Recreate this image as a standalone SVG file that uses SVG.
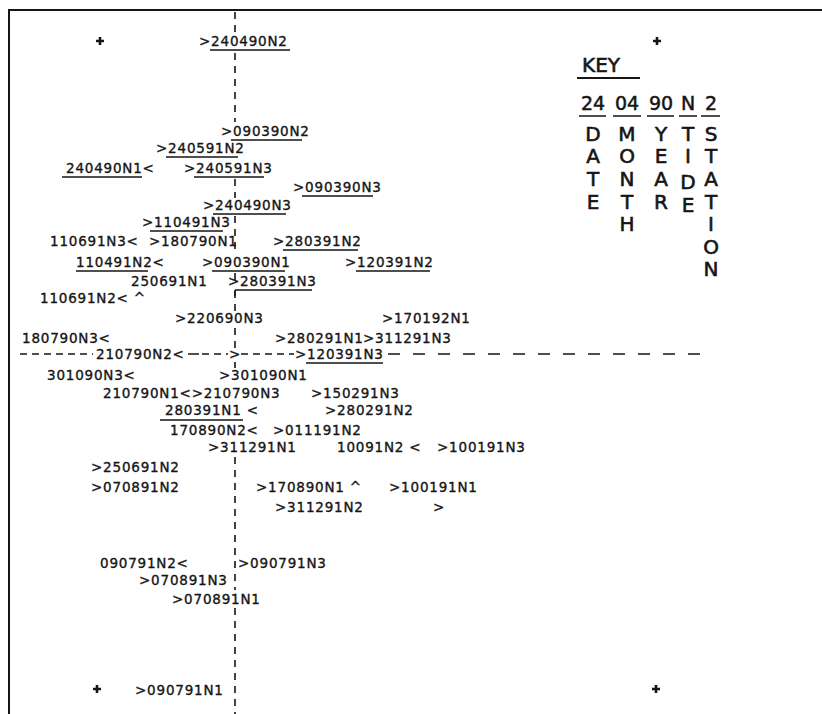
<svg xmlns="http://www.w3.org/2000/svg" width="822" height="714" viewBox="0 0 822 714">
<style>
.t{font-family:"DejaVu Sans","Liberation Sans",sans-serif;font-size:13.5px;letter-spacing:0.8px;fill:#151515;stroke:#151515;stroke-width:0.35px}
.k{font-family:"DejaVu Sans","Liberation Sans",sans-serif;font-size:20px;fill:#151515;stroke:#151515;stroke-width:0.6px;text-anchor:middle}
.kd{font-family:"DejaVu Sans","Liberation Sans",sans-serif;font-size:19px;fill:#151515;stroke:#151515;stroke-width:0.5px;text-anchor:middle}
.ul{stroke:#151515;stroke-width:1.5;fill:none}
.dv{stroke:#151515;stroke-width:1.6;fill:none;stroke-dasharray:7 6}
.dh{stroke:#151515;stroke-width:1.6;fill:none;stroke-dasharray:7 5}
.dl{stroke:#151515;stroke-width:1.6;fill:none;stroke-dasharray:12 13}
.cr{stroke:#151515;stroke-width:2.6;fill:none}
</style>
<rect width="822" height="714" fill="#fff"/>
<path d="M9 714 V10 H822" stroke="#151515" stroke-width="2" fill="none"/>
<g id="marks">
<path class="cr" d="M96 41 h8 M100 37 v8"/>
<path class="cr" d="M653 41 h8 M657 37 v8"/>
<path class="cr" d="M93 689 h8 M97 685 v8"/>
<path class="cr" d="M652 689 h8 M656 685 v8"/>
</g>
<g id="connectors">
<path class="dv" d="M235 12 V34 M235 53 V122 M235 179 V198 M235 216 V254 M235 273 V281 M235 291 V312 M235 328 V349 M235 362 V368 M235 457 V590 M235 608 V714"/>
<path class="ul" d="M235 290 V296"/>
<path class="dh" d="M20 354 H93 M202 354 H228 M241 354 H294"/>
<path class="ul" d="M188 354 H199"/>
<path class="dl" d="M388 354 H712"/>
</g>
<g id="n1"><text class="t" x="199" y="46">&gt;240490N2</text><path class="ul" d="M210 50 H290"/></g>
<g id="n2"><text class="t" x="221" y="136">&gt;090390N2</text><path class="ul" d="M231 140 H302"/></g>
<g id="n3"><text class="t" x="156" y="153">&gt;240591N2</text><path class="ul" d="M166 157 H238"/></g>
<g id="n4"><text class="t" x="66" y="173">240490N1&lt;</text><path class="ul" d="M62 177 H142"/></g>
<g id="n5"><text class="t" x="184" y="173">&gt;240591N3</text><path class="ul" d="M194 177 H264"/></g>
<g id="n6"><text class="t" x="293" y="192">&gt;090390N3</text><path class="ul" d="M302 196 H373"/></g>
<g id="n7"><text class="t" x="203" y="210">&gt;240490N3</text><path class="ul" d="M213 214 H286"/></g>
<g id="n8"><text class="t" x="142" y="227">&gt;110491N3</text><path class="ul" d="M150 231 H223"/></g>
<g id="n9"><text class="t" x="50" y="246">110691N3&lt;</text></g>
<g id="n10"><text class="t" x="149" y="246">&gt;180790N1</text></g>
<g id="n11"><text class="t" x="273" y="246">&gt;280391N2</text><path class="ul" d="M283 250 H358"/></g>
<g id="n12"><text class="t" x="76" y="267">110491N2&lt;</text><path class="ul" d="M76 271 H148"/></g>
<g id="n13"><text class="t" x="202" y="267">&gt;090390N1</text><path class="ul" d="M212 271 H285"/></g>
<g id="n14"><text class="t" x="345" y="267">&gt;120391N2</text><path class="ul" d="M356 271 H430"/></g>
<g id="n15"><text class="t" x="131" y="286">250691N1</text></g>
<g id="n16"><text class="t" x="228" y="286">&gt;280391N3</text><path class="ul" d="M235 290 H312"/></g>
<g id="n17"><text class="t" x="40" y="303">110691N2&lt; ^</text></g>
<g id="n18"><text class="t" x="175" y="323">&gt;220690N3</text></g>
<g id="n19"><text class="t" x="382" y="323">&gt;170192N1</text></g>
<g id="n20"><text class="t" x="22" y="343">180790N3&lt;</text></g>
<g id="n21"><text class="t" x="275" y="343">&gt;280291N1</text></g>
<g id="n22"><text class="t" x="363" y="343">&gt;311291N3</text></g>
<g id="n23"><text class="t" x="96" y="359">210790N2&lt;</text></g>
<g id="n24"><text class="t" x="229" y="359">&gt;</text></g>
<g id="n25"><text class="t" x="295" y="359">&gt;120391N3</text><path class="ul" d="M306 363 H383"/></g>
<g id="n26"><text class="t" x="47" y="380">301090N3&lt;</text></g>
<g id="n27"><text class="t" x="219" y="380">&gt;301090N1</text></g>
<g id="n28"><text class="t" x="103" y="398">210790N1&lt;&gt;210790N3</text></g>
<g id="n29"><text class="t" x="311" y="398">&gt;150291N3</text></g>
<g id="n30"><text class="t" x="165" y="415">280391N1 &lt;</text><path class="ul" d="M160 420 H243"/></g>
<g id="n31"><text class="t" x="325" y="415">&gt;280291N2</text></g>
<g id="n32"><text class="t" x="170" y="435">170890N2&lt;</text></g>
<g id="n33"><text class="t" x="273" y="435">&gt;011191N2</text></g>
<g id="n34"><text class="t" x="208" y="452">&gt;311291N1</text></g>
<g id="n35"><text class="t" x="337" y="452">10091N2 &lt;</text></g>
<g id="n36"><text class="t" x="437" y="452">&gt;100191N3</text></g>
<g id="n37"><text class="t" x="91" y="472">&gt;250691N2</text></g>
<g id="n38"><text class="t" x="91" y="492">&gt;070891N2</text></g>
<g id="n39"><text class="t" x="256" y="492">&gt;170890N1 ^</text></g>
<g id="n40"><text class="t" x="389" y="492">&gt;100191N1</text></g>
<g id="n41"><text class="t" x="275" y="512">&gt;311291N2</text></g>
<g id="n42"><text class="t" x="433" y="512">&gt;</text></g>
<g id="n43"><text class="t" x="100" y="568">090791N2&lt;</text></g>
<g id="n44"><text class="t" x="238" y="568">&gt;090791N3</text></g>
<g id="n45"><text class="t" x="139" y="585">&gt;070891N3</text></g>
<g id="n46"><text class="t" x="172" y="604">&gt;070891N1</text></g>
<g id="n47"><text class="t" x="135" y="695">&gt;090791N1</text></g>
<g id="key">
<text class="k" x="601" y="72">KEY</text>
<path d="M577 78 H640" stroke="#151515" stroke-width="2.2"/>
<text class="kd" x="593" y="110">24</text>
<text class="kd" x="627" y="110">04</text>
<text class="kd" x="661" y="110">90</text>
<text class="kd" x="688" y="110">N</text>
<text class="kd" x="711" y="110">2</text>
<path class="ul" d="M579 116 H606 M613 116 H641 M647 116 H674 M679 116 H697 M701 116 H720"/>
<text class="k" x="593" y="141">D</text><text class="k" x="593" y="163">A</text><text class="k" x="593" y="186">T</text><text class="k" x="593" y="209">E</text>
<text class="k" x="627" y="141">M</text><text class="k" x="627" y="163">O</text><text class="k" x="627" y="186">N</text><text class="k" x="627" y="209">T</text><text class="k" x="627" y="231">H</text>
<text class="k" x="661" y="141">Y</text><text class="k" x="661" y="163">E</text><text class="k" x="661" y="186">A</text><text class="k" x="661" y="209">R</text>
<text class="k" x="688" y="141">T</text><text class="k" x="688" y="163">I</text><text class="k" x="688" y="189">D</text><text class="k" x="688" y="212">E</text>
<text class="k" x="711" y="141">S</text><text class="k" x="711" y="163">T</text><text class="k" x="711" y="186">A</text><text class="k" x="711" y="209">T</text><text class="k" x="711" y="231">I</text><text class="k" x="711" y="254">O</text><text class="k" x="711" y="276">N</text>
</g>
</svg>
